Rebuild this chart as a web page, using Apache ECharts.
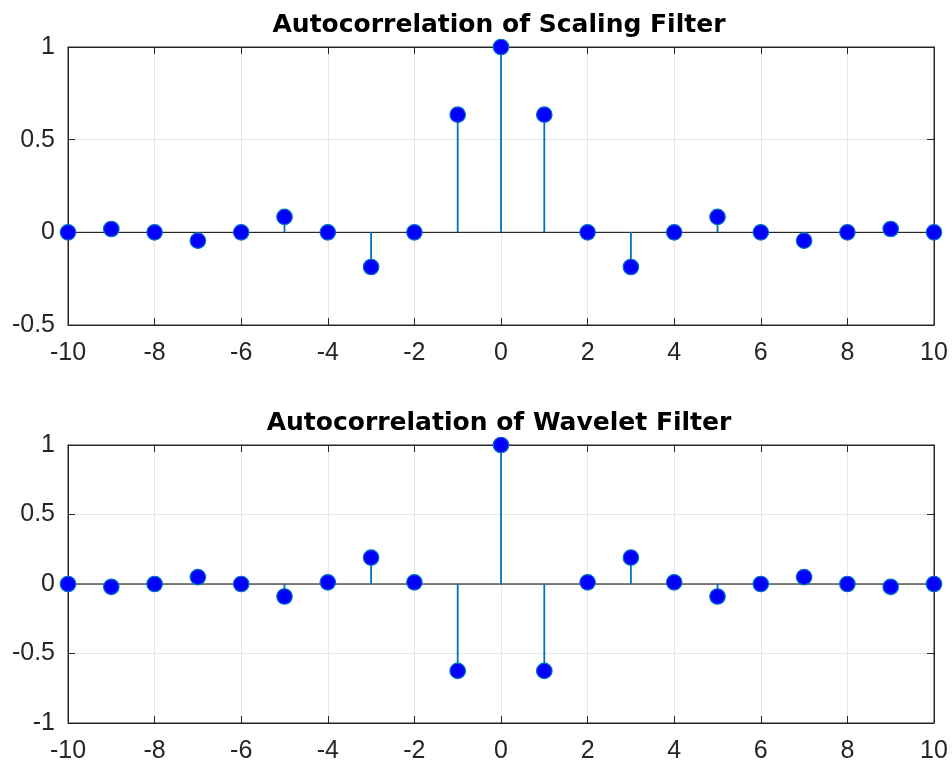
<!DOCTYPE html>
<html>
<head>
<meta charset="utf-8">
<script src="https://cdn.jsdelivr.net/npm/echarts@6/dist/echarts.min.js"></script>
<style>
html,body{margin:0;padding:0;background:#fff;}
#c{width:952px;height:769px;}
</style>
</head>
<body>
<div id="c"></div>
<script>
var lags = [-10,-9,-8,-7,-6,-5,-4,-3,-2,-1,0,1,2,3,4,5,6,7,8,9,10];
var scalingAC = [0,0.018,0,-0.045,0,0.083,0,-0.187,0,0.635,1,0.635,0,-0.187,0,0.083,0,-0.045,0,0.018,0];
var waveletAC = [0,-0.02,0,0.05,0,-0.09,0.012,0.19,0.012,-0.625,1,-0.625,0.012,0.19,0.012,-0.09,0,0.05,0,-0.02,0];
var titles = ['Autocorrelation of Scaling Filter','Autocorrelation of Wavelet Filter'];
var yTop = {min:-0.5,max:1,interval:0.5};
var yBot = {min:-1,max:1,interval:0.5};

var chart = echarts.init(document.getElementById('c'));
var textCol = '#262626';
var font = 'Liberation Sans, Arial, Helvetica, sans-serif';
var titleFont = 'DejaVu Sans, Liberation Sans, sans-serif';

function pairs(vals){ return lags.map(function(x,i){return [x, vals[i]];}); }

var grids = [
  {left:68, right:18, top:47, height:278, show:true, borderColor:textCol, borderWidth:1},
  {left:68, right:18, top:445, height:278, show:true, borderColor:textCol, borderWidth:1}
];
var xAxes = [], yAxes = [];
[0,1].forEach(function(g){
  xAxes.push({type:'value', gridIndex:g, min:-10, max:10, interval:2, position:'bottom',
    axisLine:{show:true, onZero:false, lineStyle:{color:textCol}},
    axisTick:{show:true, inside:true, length:7, lineStyle:{color:textCol}},
    axisLabel:{color:textCol, fontSize:25, fontFamily:font, margin:16},
    splitLine:{show:true, lineStyle:{color:'#e6e6e6'}}});
  xAxes.push({type:'value', gridIndex:g, min:-10, max:10, interval:2, position:'top',
    axisLine:{show:true, onZero:false, lineStyle:{color:textCol}},
    axisTick:{show:true, inside:true, length:7, lineStyle:{color:textCol}},
    axisLabel:{show:false}, splitLine:{show:false}});
  var yr = g === 0 ? yTop : yBot;
  yAxes.push({type:'value', gridIndex:g, min:yr.min, max:yr.max, interval:yr.interval, position:'left',
    axisLine:{show:true, onZero:false, lineStyle:{color:textCol}},
    axisTick:{show:true, inside:true, length:7, lineStyle:{color:textCol}},
    axisLabel:{color:textCol, fontSize:25, fontFamily:font, margin:13, padding:[7,0,0,0]},
    splitLine:{show:true, lineStyle:{color:'#e6e6e6'}}});
  yAxes.push({type:'value', gridIndex:g, min:yr.min, max:yr.max, interval:yr.interval, position:'right',
    axisLine:{show:true, onZero:false, lineStyle:{color:textCol}},
    axisTick:{show:true, inside:true, length:7, lineStyle:{color:textCol}},
    axisLabel:{show:false}, splitLine:{show:false}});
});

var series = [];
[scalingAC, waveletAC].forEach(function(vals, g){
  var xi = g*2, yi = g*2;
  series.push({type:'line', xAxisIndex:xi, yAxisIndex:yi, data:[[-10,0],[10,0]],
    showSymbol:false, symbol:'none', silent:true, z:2,
    lineStyle:{color:'#000', width:1}});
  series.push({type:'custom', xAxisIndex:xi, yAxisIndex:yi, data:pairs(vals), z:3, clip:false,
    renderItem:function(params, api){
      var p0 = api.coord([api.value(0), 0]);
      var p1 = api.coord([api.value(0), api.value(1)]);
      return {type:'line', shape:{x1:p0[0], y1:p0[1], x2:p1[0], y2:p1[1]},
        style:{stroke:'#0072BD', lineWidth:1.8}};
    }});
  series.push({type:'scatter', xAxisIndex:xi, yAxisIndex:yi, data:pairs(vals), z:4, clip:false,
    symbol:'circle', symbolSize:15.5,
    itemStyle:{color:'#0000ff', borderColor:'#0072BD', borderWidth:1.2, opacity:1}});
});

chart.setOption({
  animation:false,
  backgroundColor:'#fff',
  title:[
    {text:titles[0], left:494, top:8, textAlign:'center',
      textStyle:{fontSize:25, fontWeight:'bold', color:'#000', fontFamily:titleFont}},
    {text:titles[1], left:494, top:406, textAlign:'center',
      textStyle:{fontSize:25, fontWeight:'bold', color:'#000', fontFamily:titleFont}}
  ],
  grid:grids, xAxis:xAxes, yAxis:yAxes, series:series
});
</script>
</body>
</html>
